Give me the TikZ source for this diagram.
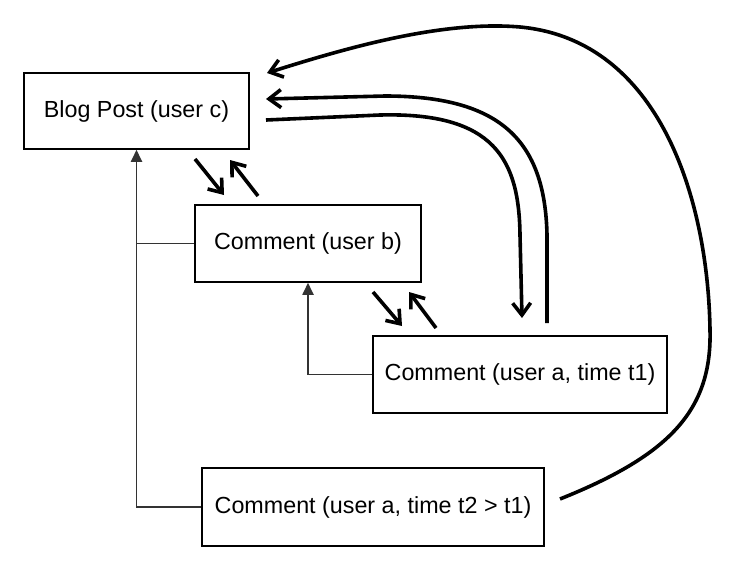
\documentclass[tikz,border=0pt]{standalone}
\usepackage{fontspec}
\setmainfont{Liberation Sans}
\usetikzlibrary{arrows.meta}
\tikzset{
  box/.style={draw=black, line width=1.5pt, fill=white, inner sep=0pt, font=\fontsize{23.3}{28}\selectfont},
  thinarrow/.style={draw=black!80, line width=1.8pt, -{Triangle[length=12pt,width=11pt]}},
  thinline/.style={draw=black!80, line width=1.8pt},
  thick arrow/.style={line width=3.6pt, -{Straight Barb[length=12pt,width=18pt,line width=3.6pt]}},
}
\begin{document}
\begin{tikzpicture}[x=1pt,y=-1pt]
\useasboundingbox (0,0) rectangle (741,579);
\node[box, minimum width=225pt, minimum height=76pt] (blog) at (136.5,111) {Blog Post (user c)};
\node[box, minimum width=226pt, minimum height=77pt] (b) at (308,243.5) {Comment (user b)};
\node[box, minimum width=294pt, minimum height=77pt] (t1) at (520,374.5) {Comment (user a, time t1)};
\node[box, minimum width=342pt, minimum height=78pt] (t2) at (373,507) {Comment (user a, time t2 > t1)};

% thin connectors
\draw[thinarrow] (b.west) -| (blog.south);
\draw[thinline] (t2.west) -| (b.west -| blog.south);
\draw[thinarrow] (t1.west) -| (b.south);

% short thick arrows
\coordinate (a1s) at (195,159);
\coordinate (a1e) at (224,195);
\coordinate (a2s) at (258,196);
\coordinate (a2e) at (230,160);
\coordinate (a3s) at (373,292);
\coordinate (a3e) at (402,326);
\coordinate (a4s) at (436,328);
\coordinate (a4e) at (409,292);
\draw[thick arrow] (a1s) -- (a1e);
\draw[thick arrow] (a2s) -- (a2e);
\draw[thick arrow] (a3s) -- (a3e);
\draw[thick arrow] (a4s) -- (a4e);

% curved arrows
\coordinate (c1s) at (266,120);
\coordinate (c1e) at (522,318);
\draw[thick arrow] (c1s) -- (380,115) .. controls (495,112) and (519,160) .. (520,235) -- (c1e);
\coordinate (c2s) at (547,323);
\coordinate (c2e) at (266,99);
\draw[thick arrow] (c2s) -- (547,235) .. controls (545,140) and (500,96) .. (385,96) -- (c2e);
\coordinate (c3s) at (560,499);
\coordinate (c3e) at (267,73);
\draw[thick arrow] (c3s) .. controls (670,455) and (712,410) .. (710,330)
  .. controls (708,200) and (660,40) .. (520,27)
  .. controls (440,20) and (340,50) .. (c3e);
\end{tikzpicture}
\end{document}
